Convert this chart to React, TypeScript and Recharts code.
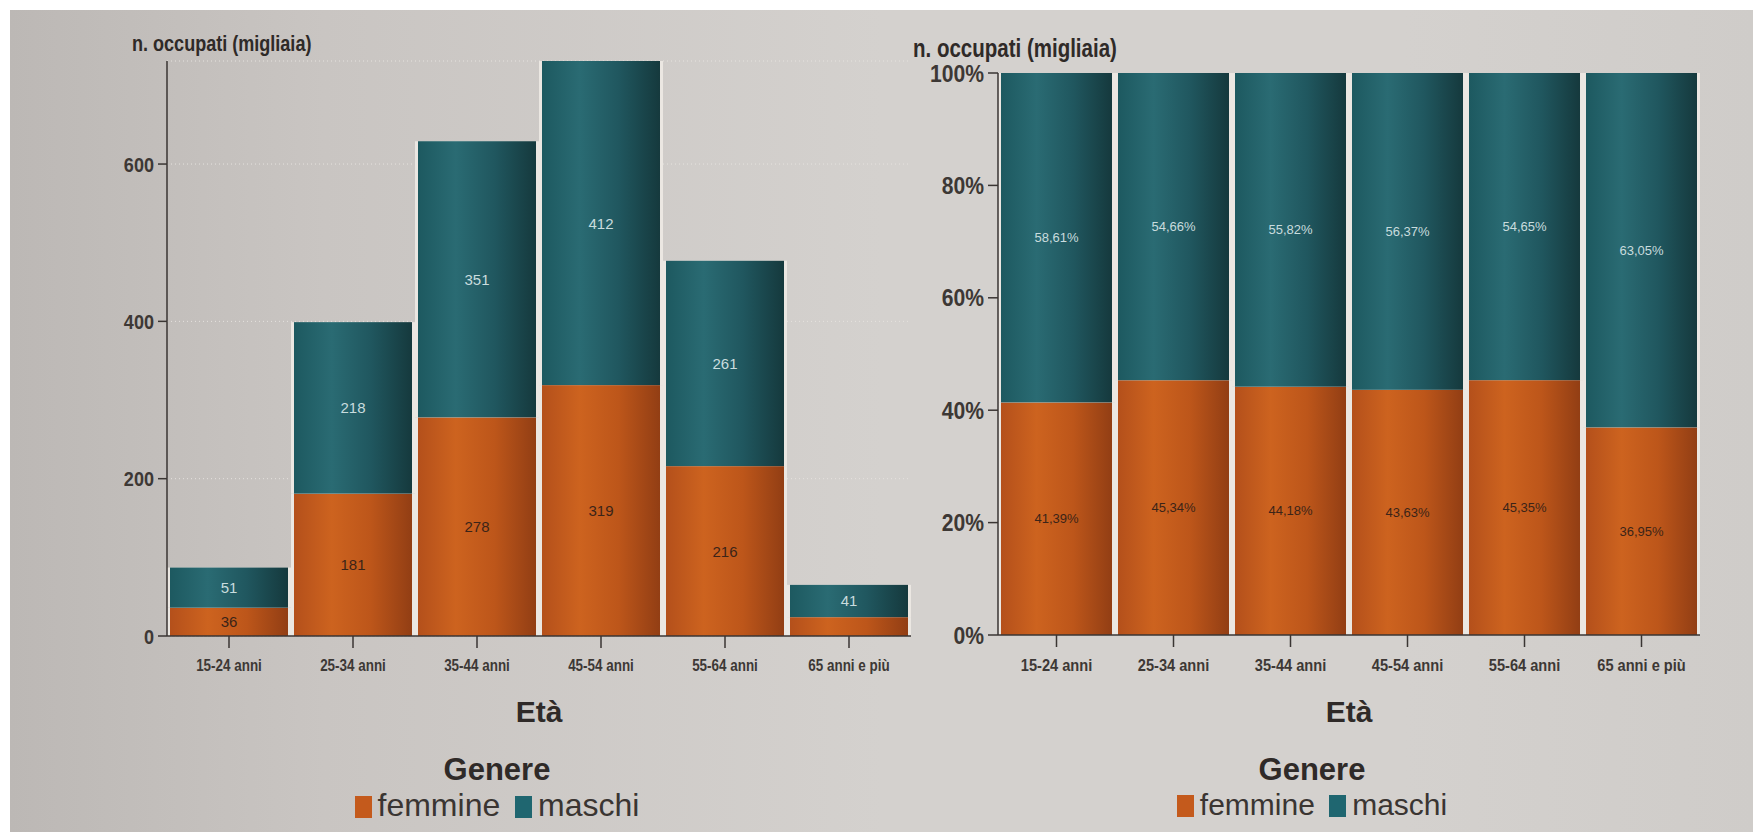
import React from "react";
import { BarChart, Bar, XAxis, YAxis, CartesianGrid } from "recharts";

const ageGroups = ["15-24 anni", "25-34 anni", "35-44 anni", "45-54 anni", "55-64 anni", "65 anni e più"];
const femmineCount = [36, 181, 278, 319, 216, 24];
const maschiCount = [51, 218, 351, 412, 261, 41];
const femminePct = [41.39, 45.34, 44.18, 43.63, 45.35, 36.95];
const maschiPct = [58.61, 54.66, 55.82, 56.37, 54.65, 63.05];
const countTicks = [0, 200, 400, 600];
const pctTicks = [0, 20, 40, 60, 80, 100];

const FONT = '"Liberation Sans", Arial, Helvetica, sans-serif';
const INK = "#2f2a28";
const TICK_INK = "#3d3835";
const AXIS = "#3a3533";
const GAP = "#ebe7e2";

const countRows = ageGroups.map((eta, i) => ({ eta, femmine: femmineCount[i], maschi: maschiCount[i] }));
const pctRows = ageGroups.map((eta, i) => ({ eta, femmine: femminePct[i], maschi: maschiPct[i] }));

function Gradients({ id }: { id: string }) {
  return (
    <defs>
      <linearGradient id={`f${id}`} x1="0" y1="0" x2="1" y2="0">
        <stop offset="0%" stopColor="#b4501b" />
        <stop offset="32%" stopColor="#cd631f" />
        <stop offset="65%" stopColor="#bd561a" />
        <stop offset="100%" stopColor="#923e14" />
      </linearGradient>
      <linearGradient id={`m${id}`} x1="0" y1="0" x2="1" y2="0">
        <stop offset="0%" stopColor="#1d5960" />
        <stop offset="32%" stopColor="#2a6b73" />
        <stop offset="65%" stopColor="#20575f" />
        <stop offset="100%" stopColor="#15393d" />
      </linearGradient>
    </defs>
  );
}

// bar with a light strip on both sides, like the white gaps in the print
const barShape = (props: any) => {
  const { x, y, width, height, fill } = props;
  if (!height || height <= 0) return <g />;
  return (
    <g>
      <rect x={x - 3} y={y} width={width + 6} height={height} fill={GAP} />
      <rect x={x} y={y} width={width} height={height} fill={fill} />
    </g>
  );
};

const makeLabel = (values: number[], color: string, size: number, fmt: (v: number) => string) => (props: any) => {
  const { x, y, width, height, index } = props;
  if (height < 24) return null;
  return (
    <text x={x + width / 2} y={y + height / 2} textAnchor="middle" dominantBaseline="central"
      fill={color} fontSize={size} fontFamily={FONT}>
      {fmt(values[index])}
    </text>
  );
};

const pctFmt = (v: number) => v.toFixed(2).replace(".", ",") + "%";

// condensed bold tick text (the print uses a narrow face)
const narrowTick = (size: number, squeeze: number, anchor: "middle" | "end", fmt = (v: any) => String(v)) => (props: any) => {
  const { x, y, payload } = props;
  return (
    <g transform={`translate(${x},${y})`}>
      <text transform={`scale(${squeeze},1)`} textAnchor={anchor} dy={anchor === "middle" ? "0.71em" : "0.36em"}
        fill={TICK_INK} fontSize={size} fontWeight={700} fontFamily={FONT}>
        {fmt(payload.value)}
      </text>
    </g>
  );
};

function Legenda({ cx, size }: { cx: number; size: number }) {
  const sq = (c: string) => (
    <span style={{ display: "inline-block", width: 17, height: 22, background: c, margin: "0 6px 0 0", verticalAlign: "-2px" }} />
  );
  return (
    <div style={{ position: "absolute", left: cx - 250, width: 500, top: 753, textAlign: "center", color: INK, fontFamily: FONT }}>
      <div style={{ fontWeight: 700, fontSize: 31, lineHeight: "34px" }}>Genere</div>
      <div style={{ fontSize: size, lineHeight: "36px", color: "#3a3532" }}>
        {sq("#c45a1c")}femmine <span style={{ marginLeft: 6 }} />{sq("#1f6670")}maschi
      </div>
    </div>
  );
}

function Titolo({ left, top, size }: { left: number; top: number; size: number }) {
  return (
    <div style={{
      position: "absolute", left, top, fontFamily: FONT, fontWeight: 700, fontSize: size, lineHeight: 1,
      color: INK, whiteSpace: "nowrap", transform: "scaleX(0.82)", transformOrigin: "left top",
    }}>
      n. occupati (migliaia)
    </div>
  );
}

export default function App() {
  const axisLine = { stroke: AXIS, strokeWidth: 1.5 };
  const etaLabel = { value: "Età", position: "insideBottom" as const, offset: 18, fill: INK, fontSize: 30, fontWeight: 700, fontFamily: FONT };

  return (
    <div style={{ position: "absolute", left: 0, top: 0, width: 1753, height: 832, background: "#fff", overflow: "hidden" }}>
      <div
        style={{
          position: "absolute", left: 10, top: 10, width: 1743, height: 822,
          background: "linear-gradient(90deg, #bcb8b5 0%, #c9c5c2 18%, #d4d1ce 50%, #d4d1ce 80%, #cfccc9 100%)",
        }}
      />

      <Titolo left={132} top={33} size={22} />
      <Titolo left={913} top={36} size={25} />

      <div style={{ position: "absolute", left: 0, top: 0 }}>
        <BarChart width={940} height={740} data={countRows} margin={{ top: 61, right: 29, left: 107, bottom: 0 }} barCategoryGap={3}>
          <Gradients id="L" />
          <CartesianGrid vertical={false} stroke="#e6e3df" strokeDasharray="1 3" />
          <XAxis dataKey="eta" height={104} interval={0} tickSize={12} tickMargin={12} axisLine={axisLine} tickLine={axisLine}
            tick={narrowTick(16, 0.84, "middle")} label={etaLabel} />
          <YAxis width={60} domain={[0, 731]} ticks={countTicks} tickSize={9} tickMargin={4} axisLine={axisLine} tickLine={axisLine}
            tick={narrowTick(21, 0.86, "end")} />
          <Bar dataKey="femmine" stackId="a" fill="url(#fL)" isAnimationActive={false} shape={barShape}
            label={makeLabel(femmineCount, "#3b2418", 15, (v) => String(v))} />
          <Bar dataKey="maschi" stackId="a" fill="url(#mL)" isAnimationActive={false} shape={barShape}
            label={makeLabel(maschiCount, "#c9dcde", 15, (v) => String(v))} />
        </BarChart>
      </div>

      <div style={{ position: "absolute", left: 880, top: 0 }}>
        <BarChart width={860} height={740} data={pctRows} margin={{ top: 73, right: 40, left: 48, bottom: 0 }} barCategoryGap={3}>
          <Gradients id="R" />
          <XAxis dataKey="eta" height={105} interval={0} tickSize={12} tickMargin={12} axisLine={axisLine} tickLine={axisLine}
            tick={narrowTick(17, 0.86, "middle")} label={etaLabel} />
          <YAxis width={70} domain={[0, 100]} ticks={pctTicks} tickSize={10} tickMargin={4} axisLine={axisLine} tickLine={axisLine}
            tick={narrowTick(24, 0.88, "end", (v) => `${v}%`)} />
          <Bar dataKey="femmine" stackId="a" fill="url(#fR)" isAnimationActive={false} shape={barShape}
            label={makeLabel(femminePct, "#3b2418", 13, pctFmt)} />
          <Bar dataKey="maschi" stackId="a" fill="url(#mR)" isAnimationActive={false} shape={barShape}
            label={makeLabel(maschiPct, "#c9dcde", 13, pctFmt)} />
        </BarChart>
      </div>

      <Legenda cx={497} size={32} />
      <Legenda cx={1312} size={30} />
    </div>
  );
}
